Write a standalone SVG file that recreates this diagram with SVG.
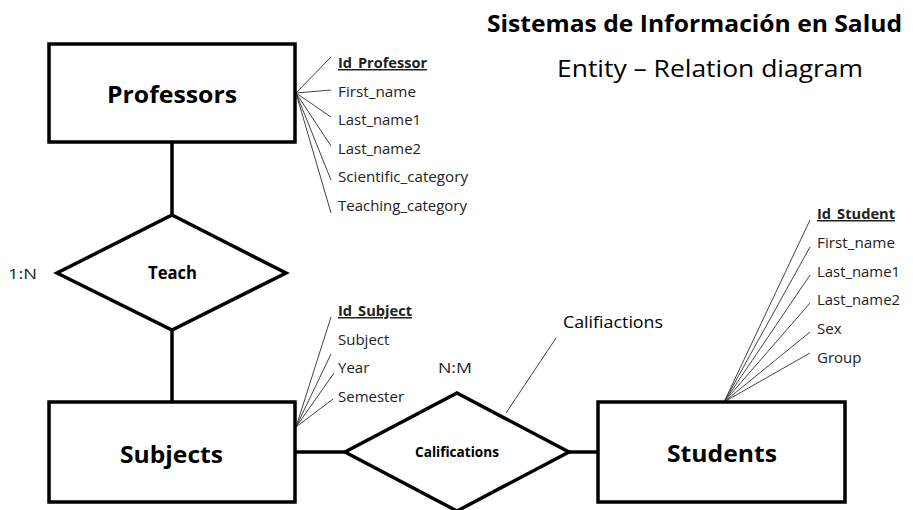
<svg xmlns="http://www.w3.org/2000/svg" width="913" height="510" viewBox="0 0 913 510">
<style>
.box{fill:#fff;stroke:#000;stroke-width:3.5}
.rel{fill:#fff;stroke:#000;stroke-width:3.5;stroke-linejoin:miter}
.link{stroke:#000;stroke-width:3.5;fill:none}
.attr{stroke:#444;stroke-width:1;fill:none}
text{font-family:"Open Sans","Noto Sans","DejaVu Sans",sans-serif;fill:#000}
.ent{font-size:24px;font-weight:bold}
.at{font-size:15px;fill:#222}
.key{font-size:15px;font-weight:bold;text-decoration:underline;fill:#222}
.lbl{font-size:15px;fill:#222}
</style>
<rect width="913" height="510" fill="#fff"/>
<g id="title">
<text x="487" y="32" font-size="24" font-weight="bold" textLength="415" lengthAdjust="spacingAndGlyphs">Sistemas de Información en Salud</text>
<text x="557" y="77" font-size="23" textLength="306" lengthAdjust="spacingAndGlyphs">Entity – Relation diagram</text>
</g>
<g id="connectors">
<line class="link" x1="172" y1="142" x2="172" y2="215"/>
<line class="link" x1="172" y1="330" x2="172" y2="402"/>
<line class="link" x1="295" y1="452" x2="345" y2="452"/>
<line class="link" x1="569" y1="452" x2="598" y2="452"/>
<line class="attr" x1="296" y1="93" x2="331" y2="57"/>
<line class="attr" x1="296" y1="93" x2="331" y2="90"/>
<line class="attr" x1="296" y1="93" x2="331" y2="117"/>
<line class="attr" x1="296" y1="93" x2="331" y2="146"/>
<line class="attr" x1="296" y1="93" x2="331" y2="180"/>
<line class="attr" x1="296" y1="93" x2="331" y2="213"/>
<line class="attr" x1="296" y1="427" x2="331" y2="317"/>
<line class="attr" x1="296" y1="427" x2="331" y2="354"/>
<line class="attr" x1="296" y1="427" x2="334" y2="373"/>
<line class="attr" x1="296" y1="427" x2="333" y2="399"/>
<line class="attr" x1="724" y1="402" x2="810" y2="220"/>
<line class="attr" x1="724" y1="402" x2="810" y2="247"/>
<line class="attr" x1="724" y1="402" x2="810" y2="275"/>
<line class="attr" x1="724" y1="402" x2="810" y2="303"/>
<line class="attr" x1="724" y1="402" x2="810" y2="332"/>
<line class="attr" x1="724" y1="402" x2="810" y2="353"/>
<line class="attr" x1="556" y1="338" x2="506" y2="413"/>
</g>
<g id="professors">
<rect class="box" x="49" y="44" width="246" height="98"/>
<text class="ent" x="107" y="103" textLength="130" lengthAdjust="spacingAndGlyphs">Professors</text>
<text class="key" x="338" y="68" textLength="89" lengthAdjust="spacingAndGlyphs">Id_Professor</text>
<text class="at" x="338" y="96.5" textLength="78" lengthAdjust="spacingAndGlyphs">First_name</text>
<text class="at" x="338" y="125" textLength="83" lengthAdjust="spacingAndGlyphs">Last_name1</text>
<text class="at" x="338" y="153.5" textLength="83" lengthAdjust="spacingAndGlyphs">Last_name2</text>
<text class="at" x="338" y="182" textLength="130" lengthAdjust="spacingAndGlyphs">Scientific_category</text>
<text class="at" x="338" y="210.5" textLength="129" lengthAdjust="spacingAndGlyphs">Teaching_category</text>
</g>
<g id="teach">
<polygon class="rel" points="172,215 286,273 172,330 57,273"/>
<text x="148" y="279" font-size="18" font-weight="bold" textLength="49" lengthAdjust="spacingAndGlyphs">Teach</text>
<text class="lbl" x="8" y="279" textLength="29" lengthAdjust="spacingAndGlyphs">1:N</text>
</g>
<g id="subjects">
<rect class="box" x="49" y="402" width="246" height="100"/>
<text class="ent" x="120" y="463" textLength="103" lengthAdjust="spacingAndGlyphs">Subjects</text>
<text class="key" x="338" y="316" textLength="74" lengthAdjust="spacingAndGlyphs">Id_Subject</text>
<text class="at" x="338" y="345">Subject</text>
<text class="at" x="338" y="373">Year</text>
<text class="at" x="338" y="402">Semester</text>
</g>
<g id="califications">
<polygon class="rel" points="457,393 569,452 457,511 345,452"/>
<text x="415" y="457" font-size="14" font-weight="bold" textLength="84" lengthAdjust="spacingAndGlyphs">Califications</text>
<text class="lbl" x="438" y="373" textLength="34" lengthAdjust="spacingAndGlyphs">N:M</text>
<text x="563" y="328" font-size="16" fill="#222" textLength="100" lengthAdjust="spacingAndGlyphs">Califiactions</text>
</g>
<g id="students">
<rect class="box" x="598" y="402" width="247" height="100"/>
<text class="ent" x="667" y="462" textLength="110" lengthAdjust="spacingAndGlyphs">Students</text>
<text class="key" x="817" y="219" textLength="78" lengthAdjust="spacingAndGlyphs">Id_Student</text>
<text class="at" x="817" y="248" textLength="78" lengthAdjust="spacingAndGlyphs">First_name</text>
<text class="at" x="817" y="276.5" textLength="83" lengthAdjust="spacingAndGlyphs">Last_name1</text>
<text class="at" x="817" y="305" textLength="83" lengthAdjust="spacingAndGlyphs">Last_name2</text>
<text class="at" x="817" y="334">Sex</text>
<text class="at" x="817" y="362.5">Group</text>
</g>
</svg>
